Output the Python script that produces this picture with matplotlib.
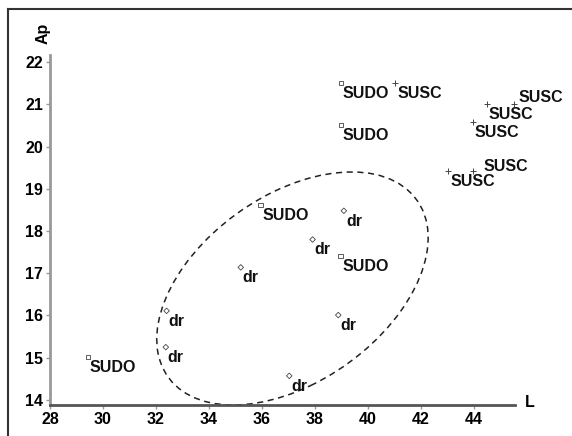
import matplotlib
matplotlib.use('Agg')
import matplotlib.pyplot as plt
from matplotlib.patches import Ellipse
from matplotlib.lines import Line2D

# values (L vs Ap)
sudo_L = [29.43, 35.95, 38.98, 38.98, 38.97]
sudo_Ap = [15.02, 18.62, 21.5, 20.51, 17.41]
susc_L = [41.02, 44.49, 45.51, 43.96, 43.02, 43.96]
susc_Ap = [21.51, 21.0, 21.0, 20.58, 19.43, 19.42]
dr_L = [32.40, 32.37, 35.2, 37.91, 39.09, 38.88, 37.03]
dr_Ap = [16.11, 15.25, 17.14, 17.8, 18.48, 16.01, 14.57]

x_ticks = [28, 30, 32, 34, 36, 38, 40, 42, 44]
y_ticks = [14, 15, 16, 17, 18, 19, 20, 21, 22]

# dashed ellipse round the dr group
ell_center = (37.15, 16.64)
ell_width = 10.6
ell_height = 4.8
ell_angle = 16.75

plt.rcParams['font.family'] = ['Liberation Sans', 'DejaVu Sans']
plt.rcParams['font.weight'] = 'bold'

fig = plt.figure(figsize=(5.72, 4.36), dpi=100)
ax = fig.add_axes([50/572, 1-405/436, 465/572, 350/436])
ax.set_xlim(28, 45.55)
ax.set_ylim(13.88, 22.17)

mc = '#444444'
ax.scatter(sudo_L, sudo_Ap, marker='s', s=10, facecolors='none', edgecolors=mc, linewidths=0.6, clip_on=False, zorder=3)
ax.scatter(susc_L, susc_Ap, marker='+', s=22, color=mc, linewidths=0.7, clip_on=False, zorder=3)
ax.scatter(dr_L, dr_Ap, marker='D', s=8, facecolors='none', edgecolors=mc, linewidths=0.6, clip_on=False, zorder=3)

default_off = (1.5, -7.5)
susc_off = {2: (3, 5), 5: (8, 3)}

def put_labels(xs, ys, text, special={}):
	for i, (x, y) in enumerate(zip(xs, ys)):
		off = special.get(i, default_off)
		ax.annotate(text, (x, y), xytext=off, textcoords='offset points',
					ha='left', va='center', fontsize=11.5, fontweight='bold', color='#111111')

put_labels(sudo_L, sudo_Ap, 'SUDO')
put_labels(susc_L, susc_Ap, 'SUSC', susc_off)
put_labels(dr_L, dr_Ap, 'dr')

ax.add_patch(Ellipse(ell_center, ell_width, ell_height, angle=ell_angle, fill=False,
					 linestyle=(0, (4, 3)), linewidth=1.1, edgecolor='#222222', clip_on=False))

for s in ['top', 'right']:
	ax.spines[s].set_visible(False)
ax.spines['left'].set_color('#999999')
ax.spines['left'].set_linewidth(2)
ax.spines['bottom'].set_color('#555555')
ax.spines['bottom'].set_linewidth(2)

ax.set_xticks(x_ticks)
ax.set_yticks(y_ticks)
ax.tick_params(direction='out', length=3, width=1, color='#999999', labelsize=11.5, pad=2)
for lab in ax.get_xticklabels() + ax.get_yticklabels():
	lab.set_fontweight('bold')

fig.text(43/572, 1-33/436, 'Ap', rotation=90, ha='center', va='center', fontsize=11.5, fontweight='bold')
fig.text(530/572, 1-402/436, 'L', ha='center', va='center', fontsize=11.5, fontweight='bold')

# frame lines at top and left of the image
fig.add_artist(Line2D([8/572, 1], [1-9.5/436, 1-9.5/436], transform=fig.transFigure, color='#333333', lw=1.5))
fig.add_artist(Line2D([8/572, 8/572], [0, 1-9.5/436], transform=fig.transFigure, color='#333333', lw=1.5))

fig.savefig('out.png', dpi=100)
